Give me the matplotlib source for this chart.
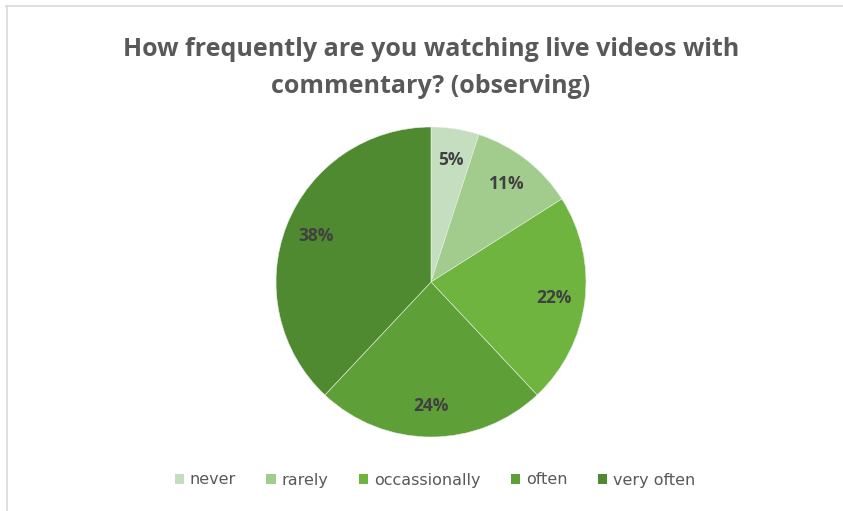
import matplotlib
matplotlib.use("Agg")
import matplotlib.pyplot as plt
from matplotlib.lines import Line2D
from matplotlib.patches import Patch

labels = ['never', 'rarely', 'occassionally', 'often', 'very often']
shares = [5, 11, 22, 24, 38]
colors = ['#c6dec0', '#a2cc8e', '#6fb43f', '#5e9f38', '#4f8a30']

W, H = 843, 511
fig = plt.figure(figsize=(W / 100, H / 100), dpi=100)
fig.patch.set_facecolor('white')

# chart frame (only top and left edges visible)
fig.add_artist(Line2D([6 / W, 1], [1 - 6.5 / H, 1 - 6.5 / H], color='#d9d9d9', lw=1.2))
fig.add_artist(Line2D([6.5 / W, 6.5 / W], [0, 1 - 6 / H], color='#d9d9d9', lw=1.2))

cx, cy, r = 431, 282, 155
ax = fig.add_axes([(cx - r) / W, (H - cy - r) / H, 2 * r / W, 2 * r / H])
wedges, texts, autotexts = ax.pie(
    shares, colors=colors, startangle=90, counterclock=False,
    autopct='%1.0f%%', pctdistance=0.8,
    wedgeprops=dict(linewidth=0.4, edgecolor='#e8f0e4'),
    textprops=dict(color='#404040', fontsize=12.5, fontweight='bold', family='Open Sans'))
ax.set_xlim(-1, 1)
ax.set_ylim(-1, 1)
ax.set_aspect('equal')

fig.text(cx / W, 1 - 68 / H, 'How frequently are you watching live videos with\ncommentary? (observing)',
         ha='center', va='center', fontsize=18, fontweight='bold', color='#595959',
         family='Open Sans', linespacing=1.6)

handles = [Patch(facecolor=c, edgecolor='none') for c in colors]
fig.legend(handles, labels, loc='center', bbox_to_anchor=((cx + 4) / W, 1 - 480 / H), ncol=5,
           frameon=False, handlelength=0.6, handleheight=0.6, handletextpad=0.35,
           columnspacing=1.9, prop=dict(family='DejaVu Sans', size=11.5),
           labelcolor='#595959')

fig.savefig('out.png', dpi=100)
